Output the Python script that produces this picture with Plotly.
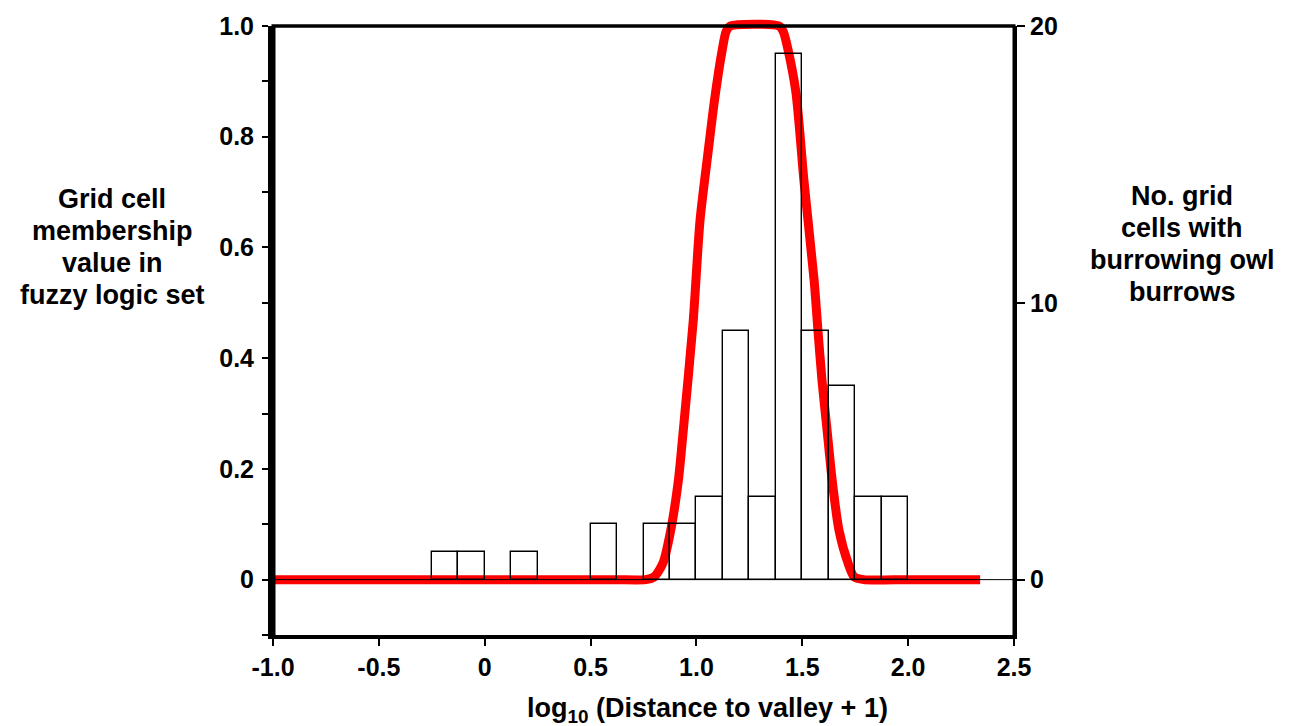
import plotly.graph_objects as go

# Histogram: number of grid cells with burrowing owl burrows (right axis)
bin_centers = [-0.1875, -0.0625, 0.1875, 0.5625, 0.8125, 0.9375, 1.0625,
               1.1875, 1.3125, 1.4375, 1.5625, 1.6875, 1.8125, 1.9375]
bin_counts = [1, 1, 1, 2, 2, 2, 3, 9, 3, 19, 9, 7, 3, 3]
bin_width = 0.125

# Fuzzy membership curve (left axis)
curve_x = [-1.0, 0.60, 0.76, 0.80, 0.842, 0.879, 0.915, 0.938, 0.985, 1.017,
           1.056, 1.085, 1.121, 1.14, 1.16, 1.39, 1.41, 1.434, 1.47,
           1.508, 1.556, 1.574, 1.593, 1.617, 1.641, 1.673, 1.716, 1.745,
           1.79, 2.0, 2.34]
curve_y = [0.0, 0.0, 0.0, 0.005, 0.03, 0.09, 0.18, 0.27, 0.468, 0.649,
           0.775, 0.865, 0.955, 0.99, 1.0, 1.0, 0.99, 0.955, 0.88,
           0.72, 0.54, 0.45, 0.36, 0.27, 0.18, 0.09, 0.03, 0.005,
           0.0, 0.0, 0.0]

x_ticks = [-1.0, -0.5, 0, 0.5, 1.0, 1.5, 2.0, 2.5]
x_ticktext = ["-1.0", "-0.5", "0", "0.5", "1.0", "1.5", "2.0", "2.5"]
y_ticks = [-0.1, 0, 0.1, 0.2, 0.3, 0.4, 0.5, 0.6, 0.7, 0.8, 0.9, 1.0]
y_ticktext = ["", "0", "", "0.2", "", "0.4", "", "0.6", "", "0.8", "", "1.0"]
y2_ticks = [0, 10, 20]
y2_ticktext = ["0", "10", "20"]

left_title = ["Grid cell", "membership", "value in", "fuzzy logic set"]
right_title = ["No. grid", "cells with", "burrowing owl", "burrows"]

FONT = "Liberation Sans, Arial, sans-serif"
TICKFONT = dict(family=FONT, size=25, color="black", weight="bold")
TITLEFONT = dict(family=FONT, size=27, color="black", weight="bold")

# Geometry (pixels) of the plotting area
PLOT_H = 609          # height spanned by the visible axes (-0.1 .. 1.0)
EXTRA = 10            # headroom so the thick red line is not clipped at 1.0
TOTAL_H = PLOT_H + EXTRA
D = PLOT_H / TOTAL_H
Y_RANGE = [-0.1, 1.0]
Y2_RANGE = [-2, 20]
y3_range = [Y_RANGE[0], Y_RANGE[0] + (Y_RANGE[1] - Y_RANGE[0]) / D]
y4_range = [Y2_RANGE[0], Y2_RANGE[0] + (Y2_RANGE[1] - Y2_RANGE[0]) / D]

fig = go.Figure()
# empty trace so that the right-hand axis (y2) is drawn
fig.add_trace(go.Scatter(x=[], y=[], xaxis="x", yaxis="y2", mode="lines",
                         showlegend=False, hoverinfo="skip"))
fig.add_trace(go.Scatter(
    x=curve_x, y=curve_y, mode="lines",
    line=dict(color="#ff0000", width=9, shape="spline", smoothing=0.7),
    xaxis="x", yaxis="y3", showlegend=False, hoverinfo="skip"))
fig.add_trace(go.Bar(
    x=bin_centers, y=bin_counts, width=bin_width,
    marker=dict(color="rgba(0,0,0,0)", line=dict(color="black", width=1.4)),
    xaxis="x", yaxis="y4", showlegend=False))

PLOT_BOTTOM_PAGE = 635  # page y of the bottom axis


def py_to_paper(py):
    return (PLOT_BOTTOM_PAGE - py) / TOTAL_H


annotations = []
for txt, py in zip(left_title, [199, 231, 263, 295]):
    annotations.append(dict(text=txt, xref="paper", yref="paper", x=-0.217,
                            y=py_to_paper(py), showarrow=False,
                            xanchor="center", yanchor="middle", font=TITLEFONT))
for txt, py in zip(right_title, [196, 228, 260, 292]):
    annotations.append(dict(text=txt, xref="paper", yref="paper", x=1.227,
                            y=py_to_paper(py), showarrow=False,
                            xanchor="center", yanchor="middle", font=TITLEFONT))
annotations.append(dict(text="log<sub>10</sub> (Distance to valley + 1)",
                        xref="paper", yref="paper", x=0.586,
                        y=py_to_paper(710), showarrow=False,
                        xanchor="center", yanchor="middle", font=TITLEFONT))

fig.update_layout(
    width=1281, height=718,
    margin=dict(l=265, r=275, t=8, b=91),
    paper_bgcolor="white", plot_bgcolor="rgba(0,0,0,0)",
    bargap=0,
    xaxis=dict(range=[-1.0, 2.5], tickvals=x_ticks, ticktext=x_ticktext,
               anchor="y", automargin=False,
               ticks="outside", ticklen=7, tickwidth=1.5, tickcolor="black",
               showline=True, linewidth=4, linecolor="black", mirror=False,
               showgrid=False, zeroline=False, tickfont=TICKFONT),
    yaxis=dict(range=Y_RANGE, domain=[0, D], tickvals=y_ticks,
               ticktext=y_ticktext, anchor="x", automargin=False,
               ticks="outside", ticklen=6, tickwidth=1.5, tickcolor="black",
               showline=True, linewidth=5, linecolor="black",
               ticklabelstandoff=3,
               showgrid=False, zeroline=False, tickfont=TICKFONT),
    yaxis2=dict(range=Y2_RANGE, tickvals=y2_ticks, ticktext=y2_ticktext,
                overlaying="y", side="right", anchor="x", automargin=False,
                ticks="outside", ticklen=8, tickwidth=1.5, tickcolor="black",
                showline=True, linewidth=3, linecolor="black",
                showgrid=False, zeroline=False, tickfont=TICKFONT),
    yaxis3=dict(range=y3_range, domain=[0, 1], anchor="x", visible=False,
                automargin=False, showgrid=False, zeroline=False),
    yaxis4=dict(range=y4_range, overlaying="y3", anchor="x", visible=False,
                automargin=False, showgrid=False, zeroline=False),
    shapes=[
        dict(type="line", xref="paper", x0=0, x1=1, yref="y", y0=0, y1=0,
             line=dict(color="black", width=1), layer="above"),
        dict(type="line", xref="paper", x0=-0.002, x1=1.002, yref="paper",
             y0=D, y1=D, line=dict(color="black", width=3.5), layer="above"),
        dict(type="line", xref="paper", x0=0, x1=0, yref="paper", y0=0, y1=D,
             line=dict(color="black", width=5), layer="above"),
        dict(type="line", xref="paper", x0=1, x1=1, yref="paper", y0=0, y1=D,
             line=dict(color="black", width=3), layer="above"),
    ],
    annotations=annotations,
)

fig.write_html("out.html")
